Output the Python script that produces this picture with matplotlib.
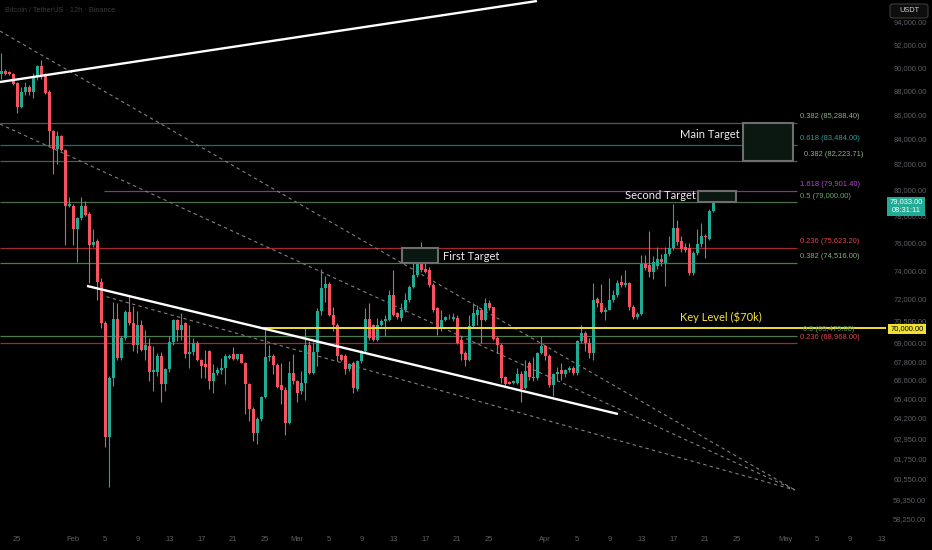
import matplotlib
matplotlib.use("Agg")
import matplotlib.pyplot as plt
import matplotlib.dates as mdates
from matplotlib.patches import Rectangle, FancyBboxPatch
from matplotlib.ticker import NullLocator, FixedLocator, FixedFormatter
import pandas as pd
import numpy as np

# ---------------- data ----------------
start_time = "2025-01-23 00:00"
opens = [89400, 89650, 89550, 89400, 88600, 86590, 87830, 88280, 87910, 89180,
         90100, 89320, 87830, 84660, 83200, 84260, 83060, 78700, 78750, 76970,
         77810, 78750, 78130, 75800, 76090, 73170, 70335, 63015, 66690, 70620,
         68020, 69335, 71080, 70335, 68890, 70180, 68560, 68780, 67120, 67120,
         68130, 66310, 67270, 69070, 70560, 69890, 70335, 68240, 68400, 69000,
         67850, 67590, 68460, 66520, 67055, 67200, 67375, 68020, 68240, 67960,
         68240, 67700, 66310, 64740, 63270, 64130, 65470, 68070, 68130, 67550,
         66250, 65940, 63880, 67055, 66520, 65850, 66420, 68890, 67055, 68410,
         71130, 72727, 73010, 70900, 70220, 68200, 68130, 67270, 67700, 66000,
         67800, 68460, 70620, 70220, 69220, 70220, 70490, 70560, 72260, 71010,
         70670, 71230, 71920, 72840, 73660, 74960, 74130, 74010, 72960, 71350,
         70000, 70560, 70720, 70600, 70670, 69220, 68350, 67910, 70110, 70900,
         71230, 70560, 71740, 71400, 69335, 68890, 66800, 66480, 66420, 66420,
         66950, 66100, 67700, 66800, 66700, 68350, 68780, 68130, 66250, 66940,
         67200, 66950, 67200, 67375, 67050, 69100, 69650, 69000, 68350, 72000,
         71690, 71080, 71240, 71920, 72260, 73170, 72960, 73120, 71460, 70720,
         70950, 74480, 74410, 73880, 74300, 74840, 74560, 75200, 75630, 77060,
         76090, 75700, 75600, 73780, 75270, 75920, 76480, 76285, 78380]
highs = [91200, 89850, 89700, 89500, 88750, 88330, 88750, 88470, 89460, 90180,
         90620, 89460, 88050, 84750, 84610, 84340, 83140, 79390, 78880, 77880,
         79390, 79130, 78250, 77020, 76285, 73425, 70450, 66840, 71810, 71690,
         69450, 71230, 72260, 71530, 71190, 70560, 69890, 69335, 68780, 68350,
         68410, 67375, 69450, 70620, 70620, 71010, 70400, 70180, 69300, 69150,
         67950, 68560, 68560, 67590, 67400, 68020, 68280, 68240, 68740, 68300,
         68300, 67740, 66420, 64848, 64230, 65570, 70000, 68890, 68280, 67700,
         67700, 66150, 67800, 68240, 66560, 67160, 70090, 69110, 69070, 71350,
         74080, 73610, 73190, 71460, 70335, 68280, 68240, 67700, 67800, 67910,
         68560, 71350, 71690, 70300, 70670, 70600, 70900, 72610, 74060, 71100,
         71690, 72380, 72960, 74610, 75080, 76040, 74720, 74240, 73080, 71460,
         71230, 70850, 70950, 71010, 70900, 69450, 68460, 70900, 71690, 71580,
         71350, 72080, 71900, 71460, 69450, 69000, 66840, 66550, 66600, 67375,
         67160, 67910, 67800, 68100, 68400, 69450, 68890, 68240, 67050, 67400,
         67650, 67300, 67500, 67500, 69220, 70220, 69780, 69335, 73080, 72150,
         73000, 71460, 73430, 72610, 73330, 73650, 74060, 73190, 71580, 71100,
         75100, 75100, 76880, 75000, 75650, 75200, 75650, 76500, 78900, 77700,
         76500, 76000, 76000, 75420, 77020, 77460, 76650, 78500, 79200]
lows = [89000, 89300, 89300, 88450, 86100, 86500, 87630, 87630, 87350, 88900,
        88950, 87720, 83400, 81180, 81960, 83000, 75800, 78620, 75830, 74610,
        77710, 78000, 73076, 75680, 71920, 70000, 62415, 60073, 66200, 67910,
        67910, 69220, 70220, 68460, 68350, 68500, 67910, 66520, 65890, 66840,
        65160, 65890, 67120, 68890, 69120, 69220, 68020, 67375, 68200, 67800,
        66735, 66735, 66000, 65785, 66900, 66950, 66310, 67970, 67910, 67900,
        67650, 64430, 64030, 62810, 62610, 64030, 65420, 67800, 66950, 66100,
        65050, 63120, 63820, 66310, 65160, 65680, 65330, 66950, 66950, 67480,
        70900, 71810, 70790, 69780, 67800, 67800, 66950, 67160, 65785, 65900,
        67650, 68350, 69220, 69150, 69110, 70150, 69450, 70450, 70850, 70600,
        70450, 71120, 71800, 72727, 73540, 73900, 73780, 72840, 71120, 69560,
        69780, 70450, 70600, 70450, 68900, 67910, 67480, 67800, 70000, 70220,
        69000, 70450, 71230, 69220, 68350, 66417, 66200, 66300, 66350, 66310,
        65160, 66000, 66600, 66500, 66600, 68240, 67910, 66150, 65570, 66500,
        66600, 66800, 67100, 66900, 66900, 69000, 68460, 68000, 67910, 71460,
        71010, 70560, 71200, 71800, 72100, 72840, 72840, 71230, 70600, 70600,
        70900, 74000, 73500, 73400, 74130, 74300, 72900, 75000, 75500, 75800,
        75300, 75300, 73700, 73700, 75100, 75700, 74890, 76200, 78300]
closes = [89700, 89450, 89400, 88550, 86590, 87830, 88280, 87910, 89180, 90100,
          89320, 87770, 84610, 83200, 84260, 83060, 78750, 78880, 76970, 77810,
          78750, 78080, 75800, 76040, 73170, 70335, 63015, 66735, 70620, 68020,
          69335, 71080, 70335, 68890, 70180, 68560, 68890, 67120, 67200, 68130,
          66310, 67270, 69070, 70560, 69890, 70220, 68240, 68400, 69000, 67850,
          67480, 67420, 66520, 67055, 67200, 67375, 68130, 68170, 67960, 68240,
          67700, 66310, 64740, 63270, 64130, 65470, 68070, 68130, 67550, 66140,
          65940, 63880, 67055, 66520, 65785, 66420, 68890, 67055, 68410, 71130,
          72727, 73010, 70900, 70220, 68130, 67910, 67270, 67590, 66100, 67800,
          68460, 70620, 69335, 69220, 70220, 70490, 70580, 72260, 70900, 70720,
          71230, 71920, 72840, 73660, 74960, 74010, 73900, 72960, 71230, 70000,
          70560, 70720, 70780, 70780, 69000, 68240, 67910, 70110, 71010, 71230,
          70560, 71740, 71350, 69250, 68890, 66735, 66350, 66350, 66520, 66950,
          66000, 67160, 66800, 66700, 68350, 68780, 68130, 66250, 66940, 67120,
          66950, 67200, 67375, 67050, 69100, 69650, 69000, 68350, 71920, 71690,
          71080, 71240, 71920, 72260, 73120, 72960, 73080, 71460, 70720, 70950,
          74480, 74180, 73880, 74600, 74840, 74600, 75200, 75630, 77060, 76040,
          75560, 75500, 73780, 75270, 75920, 76480, 76380, 78380, 79033]

last_price = 79033.00
countdown = "08:31:11"

# price axis labels (TradingView auto-scale levels)
ytick_values = [94000, 92000, 90000, 88000, 86000, 84000, 82000, 80000, 78000,
                76000, 74000, 72000, 70500, 69000, 67800, 66600, 65400, 64200,
                62950, 61750, 60550, 59350, 58250]
xtick_dates = ["2025-01-25", "2025-02-01", "2025-02-05", "2025-02-09", "2025-02-13",
               "2025-02-17", "2025-02-21", "2025-02-25", "2025-03-01", "2025-03-05",
               "2025-03-09", "2025-03-13", "2025-03-17", "2025-03-21", "2025-03-25",
               "2025-04-01", "2025-04-05", "2025-04-09", "2025-04-13", "2025-04-17",
               "2025-04-21", "2025-04-25", "2025-05-01", "2025-05-05", "2025-05-09",
               "2025-05-13"]
xtick_labels = ["25", "Feb", "5", "9", "13", "17", "21", "25", "Mar", "5", "9", "13",
                "17", "21", "25", "Apr", "5", "9", "13", "17", "21", "25", "May",
                "5", "9", "13"]

# Fibonacci levels: (label, price)
fib_labels = ["0.382", "0.618", "0.382", "1.618", "0.5", "0.236", "0.382", "0.5", "0.236"]
fib_prices = [85288.40, 83484.00, 82223.71, 79901.40, 79000.00, 75623.20, 74516.00,
              69479.08, 68968.00]
fib_starts = ["2025-01-22 20:00"] * 3 + ["2025-02-04 20:00"] + ["2025-01-22 20:00"] * 5
key_level = 70000.00
key_level_start = "2025-02-24 17:00"
fib_end = "2025-05-02 11:00"
fib_label_time = "2025-05-02 20:00"

# trend lines: (start time, start price, end time, end price)
upper_trend = ("2025-01-22 20:00", 88720, "2025-03-30 23:00", 95920)
lower_trend = ("2025-02-02 17:00", 72898, "2025-04-10 02:00", 64437)
dashed_lines = [("2025-01-22 20:00", 93189, "2025-05-02 05:00", 59887),
                ("2025-01-22 20:00", 85200, "2025-05-02 05:00", 59887),
                ("2025-02-04 08:00", 72270, "2025-05-02 05:00", 59887)]

# target zones
target_names = ["Main Target", "Second Target", "First Target"]
target_t0 = ["2025-04-25 17:00", "2025-04-20 02:00", "2025-03-14 02:00"]
target_t1 = ["2025-05-01 23:00", "2025-04-24 20:00", "2025-03-18 14:00"]
target_lo = [82223.71, 79000.00, 74516.00]
target_hi = [85288.40, 79901.40, 75623.20]

# ---------------- styling ----------------
BG = "#000000"
UP = "#22ab94"
DOWN = "#f7525f"
AXIS_TXT = "#5d6066"
fib_line_colors = ["#4a5e48", "#1f6e6a", "#4a5e48", "#8a2fa0", "#4c6e48",
                   "#a12a2f", "#4c7a4c", "#4c7a4c", "#a12a2f"]
fib_text_colors = ["#8fae8a", "#2fa39a", "#8fae8a", "#b844d6", "#6ba866",
                   "#e04550", "#7fb27a", "#5f9a5a", "#e04550"]
fib_text_dx = [0, 0, 4, 0, 0, 0, 0, 3, 0]

W, H = 932, 550
fig = plt.figure(figsize=(W / 100, H / 100), dpi=100, facecolor=BG)
ax = fig.add_axes([0, 20 / H, 886 / W, 530 / H], facecolor=BG)

times = pd.date_range(start_time, periods=len(opens), freq="12h")
x = mdates.date2num(times.to_pydatetime())
o = np.array(opens, float)
h = np.array(highs, float)
l = np.array(lows, float)
c = np.array(closes, float)
up = c >= o
cols = np.where(up, UP, DOWN)

ax.set_yscale("log")
ax.vlines(x, l, h, colors=cols, linewidth=0.8, zorder=3)
bottoms = np.minimum(o, c)
heights = np.maximum(np.abs(c - o), bottoms * 0.0008)
ax.bar(x, heights, bottom=bottoms, width=0.40, color=cols, edgecolor=cols,
       linewidth=0, zorder=4)

def d(s):
    return mdates.date2num(pd.Timestamp(s).to_pydatetime())

# fib lines
for lab, p, s, lc, tc, dx in zip(fib_labels, fib_prices, fib_starts, fib_line_colors,
                                 fib_text_colors, fib_text_dx):
    ax.hlines(p, d(s), d(fib_end), colors=lc, linewidth=0.9, zorder=2)
    ax.annotate(f"{lab} ({p:,.2f})", xy=(d(fib_label_time), p), xytext=(dx * 0.75, 2),
                textcoords="offset points", color=tc, fontsize=5.4,
                family="Liberation Sans", ha="left", va="bottom", zorder=6)

# key level
xlim = (d("2025-01-22 20:10"), d("2025-05-13 14:10"))
ax.hlines(key_level, d(key_level_start), xlim[1], colors="#f0e130", linewidth=1.4, zorder=5)

# trend lines
for (t0, p0, t1, p1) in dashed_lines:
    ax.plot([d(t0), d(t1)], [p0, p1], color="#808080", linewidth=0.8,
            linestyle=(0, (3, 3)), zorder=2)
for (t0, p0, t1, p1) in [upper_trend, lower_trend]:
    ax.plot([d(t0), d(t1)], [p0, p1], color="#ffffff", linewidth=1.7,
            solid_capstyle="butt", zorder=6)

# target boxes
for name, t0, t1, lo, hi in zip(target_names, target_t0, target_t1, target_lo, target_hi):
    ax.add_patch(Rectangle((d(t0), lo), d(t1) - d(t0), hi - lo, facecolor="#0b1812",
                           edgecolor="#6e6e6e", linewidth=1.5, zorder=5))

txt_kw = dict(color="#eeeeee", fontsize=8, family="Lato", zorder=7)
ax.text(d("2025-04-25 08:00"), 84340, "Main Target", ha="right", va="center", **txt_kw)
ax.text(d("2025-04-19 20:00"), 79560, "Second Target", ha="right", va="center", **txt_kw)
ax.text(d("2025-03-19 05:00"), 75020, "First Target", ha="left", va="center", **txt_kw)
ax.text(d("2025-04-17 20:00"), 70740, "Key Level ($70k)", ha="left", va="center",
        color="#f5e23a", fontsize=8, family="Lato", zorder=7)

# axes
ax.set_xlim(*xlim)
ax.set_ylim(57624, 96014)
for sp in ax.spines.values():
    sp.set_visible(False)
ax.yaxis.tick_right()
ax.yaxis.set_major_locator(FixedLocator(ytick_values))
ax.yaxis.set_major_formatter(FixedFormatter([f"{v:,.2f}" for v in ytick_values]))
ax.yaxis.set_minor_locator(NullLocator())
ax.set_xticks([d(s) for s in xtick_dates])
ax.set_xticklabels(xtick_labels)
ax.xaxis.set_minor_locator(NullLocator())
ax.tick_params(axis="y", length=0, pad=5.2, labelsize=5.4, labelcolor=AXIS_TXT)
ax.tick_params(axis="x", length=0, pad=4.0, labelsize=5.4, labelcolor=AXIS_TXT)
for t in ax.get_xticklabels() + ax.get_yticklabels():
    t.set_family("Liberation Sans")

# title
fig.text(5 / W, 1 - 10 / H, "Bitcoin / TetherUS · 12h · Binance", color="#3a3a3a",
         fontsize=5.3, family="Liberation Sans", va="center", ha="left")

# USDT box
fig.patches.append(FancyBboxPatch((890 / W, 1 - 18 / H), 38 / W, 14 / H,
                                  boxstyle="round,pad=0,rounding_size=0.004",
                                  transform=fig.transFigure, facecolor="#0e0e0e",
                                  edgecolor="#3c3c3c", linewidth=0.8, zorder=8))
fig.text(909 / W, 1 - 11 / H, "USDT", color="#d0d0d0", fontsize=5.3,
         family="Liberation Sans", ha="center", va="center", zorder=9)

# last price label
fig.patches.append(Rectangle((887 / W, 1 - 216 / H), 38 / W, 19 / H,
                             transform=fig.transFigure, facecolor="#22ab94",
                             edgecolor="none", zorder=8))
fig.text(906 / W, 1 - 202 / H, f"{last_price:,.2f}", color="#ffffff", fontsize=5.4,
         family="Liberation Sans", ha="center", va="center", zorder=9)
fig.text(906 / W, 1 - 211 / H, countdown, color="#ffffff", fontsize=5.4,
         family="Liberation Sans", ha="center", va="center", zorder=9)

# key level label
fig.patches.append(Rectangle((888 / W, 1 - 334 / H), 38 / W, 10 / H,
                             transform=fig.transFigure, facecolor="#f0e130",
                             edgecolor="none", zorder=8))
fig.text(907 / W, 1 - 329 / H, f"{key_level:,.2f}", color="#000000", fontsize=5.4,
         family="Liberation Sans", ha="center", va="center", zorder=9)

fig.savefig("out.png", dpi=100, facecolor=BG)
